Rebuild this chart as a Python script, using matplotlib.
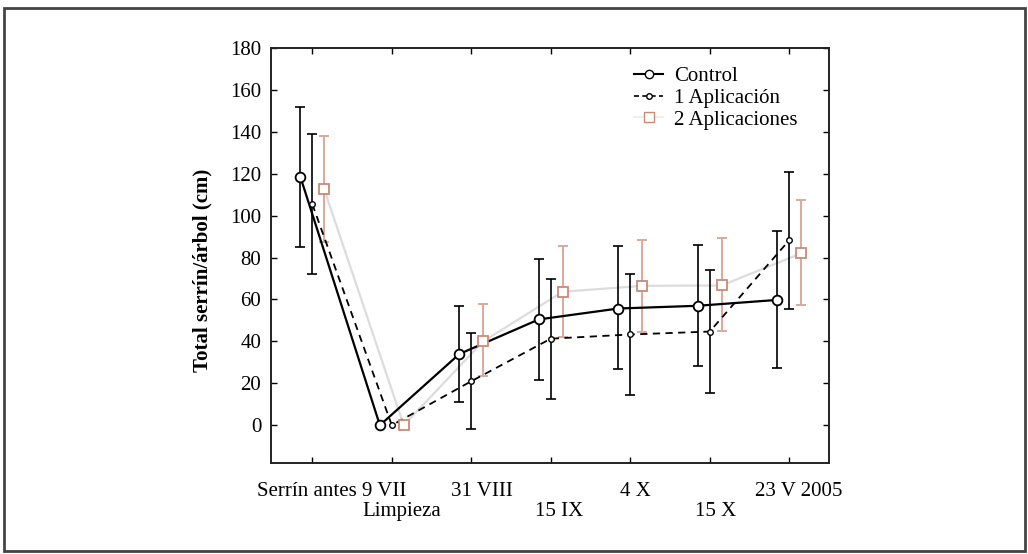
import numpy as np
import matplotlib
matplotlib.use("Agg")
import matplotlib.pyplot as plt
from matplotlib.patches import Rectangle
from matplotlib.lines import Line2D

plt.rcParams['font.family'] = ['Liberation Serif', 'DejaVu Serif']

categories = ["Serrín antes 9 VII", "Limpieza", "31 VIII", "15 IX", "4 X", "15 X", "23 V 2005"]

control = [118.5, 0, 34, 50.5, 55.7, 57, 59.8]
control_lo = [85, np.nan, 11.3, 21.5, 27, 28.3, 27.5]
control_hi = [152, np.nan, 57, 79.3, 85.3, 86.1, 92.8]

apl1 = [105.5, 0, 21, 41.3, 43.3, 44.7, 88.3]
apl1_lo = [72, np.nan, -2, 12.7, 14.5, 15.6, 55.7]
apl1_hi = [139, np.nan, 43.9, 70, 72.4, 74.2, 120.6]

apl2 = [112.5, 0, 40, 63.7, 66.5, 66.7, 82]
apl2_lo = [87.4, np.nan, 23.5, 42, 44.3, 45, 57.3]
apl2_hi = [138, np.nan, 57.8, 85.6, 88.5, 89.3, 107.4]

yticks = [0, 20, 40, 60, 80, 100, 120, 140, 160, 180]

fig = plt.figure(figsize=(10.28, 5.54), dpi=100)
ax = fig.add_axes([0.2636, 0.1643, 0.5428, 0.7491])

x = np.arange(len(categories))
off = 0.15
salmon = "#c98a76"
salmon_light = "#dba99a"

def err(v, lo, hi):
    v = np.array(v, float); lo = np.array(lo, float); hi = np.array(hi, float)
    return np.vstack([v - lo, hi - v])

# 2 Aplicaciones
ax.plot(x + off, apl2, color="#dcdcdc", lw=1.6, zorder=1)
ax.errorbar(x + off, apl2, yerr=err(apl2, apl2_lo, apl2_hi), fmt="none",
            ecolor=salmon_light, elinewidth=1.4, capsize=3.5, capthick=1.4, zorder=2)
ax.plot(x + off, apl2, ls="none", marker="s", ms=6.5, mfc="white", mec=salmon,
        mew=1.3, zorder=5)

# 1 Aplicación
ax.plot(x, apl1, color="black", lw=1.3, ls=(0, (4, 3)), zorder=3)
ax.errorbar(x, apl1, yerr=err(apl1, apl1_lo, apl1_hi), fmt="none",
            ecolor="black", elinewidth=1.2, capsize=3.5, capthick=1.2, zorder=3)
ax.plot(x, apl1, ls="none", marker="o", ms=4, mfc="white", mec="black",
        mew=1.0, zorder=6)

# Control
ax.plot(x - off, control, color="black", lw=1.6, zorder=4)
ax.errorbar(x - off, control, yerr=err(control, control_lo, control_hi), fmt="none",
            ecolor="black", elinewidth=1.2, capsize=3.5, capthick=1.2, zorder=4)
ax.plot(x - off, control, ls="none", marker="o", ms=7, mfc="white", mec="black",
        mew=1.3, zorder=7)

ax.set_xlim(-0.52, 6.5)
ax.set_ylim(-18, 180)
ax.set_yticks(yticks)
ax.set_yticklabels([str(t) for t in yticks], fontsize=15)
ax.set_xticks(x)
ax.set_xticklabels([""] * len(x))
ax.tick_params(direction="in", length=4, width=1.0, top=True, right=True, pad=7)
for s in ax.spines.values():
    s.set_linewidth(1.4)
    s.set_color("#222222")

# x labels, alternating rows
shifts = [0.24, 0.12, 0.14, 0.11, 0.07, 0.08, 0.12]
for i, lab in enumerate(categories):
    ypos = -0.045 if i % 2 == 0 else -0.095
    ax.text(x[i] + shifts[i], ypos, lab, transform=ax.get_xaxis_transform(),
            ha="center", va="top", fontsize=15)

ax.set_ylabel("Total serrín/árbol (cm)", fontsize=15, fontweight="bold")
ax.yaxis.set_label_coords(-0.105, 0.463)

handles = [
    Line2D([], [], color="black", lw=1.5, marker="o", ms=6, mfc="white", mec="black"),
    Line2D([], [], color="black", lw=1.2, ls=(0, (3, 2)), marker="o", ms=4, mfc="white", mec="black"),
    Line2D([], [], color="#ececec", lw=1.2, marker="s", ms=6.5, mfc="white", mec=salmon),
]
ax.legend(handles, ["Control", "1 Aplicación", "2 Aplicaciones"], loc="upper left",
          bbox_to_anchor=(0.625, 0.99), frameon=False, fontsize=15, handlelength=1.4,
          handletextpad=0.5, labelspacing=0.1, borderpad=0.2)

fig.add_artist(Rectangle((0.004, 0.005), 0.993, 0.98, transform=fig.transFigure,
                         fill=False, lw=2, ec="#444444"))

fig.savefig("out.png", dpi=100)
